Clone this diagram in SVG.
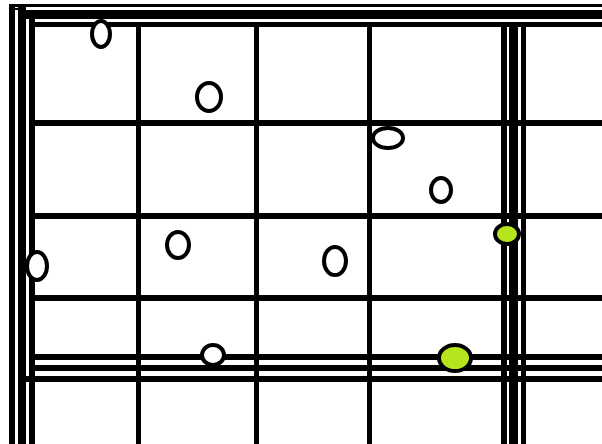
<svg xmlns="http://www.w3.org/2000/svg" width="602" height="444" viewBox="0 0 602 444">
<style>
.ln{fill:#000}
.o{fill:#fff;stroke:#000;stroke-width:4}
.g{fill:#b5e61d;stroke:#000;stroke-width:4}
</style>
<rect width="602" height="444" fill="#fff"/>
<g id="grid">
<rect class="ln" x="9" y="4" width="593" height="3"/>
<rect class="ln" x="18" y="10" width="584" height="9"/>
<rect class="ln" x="29" y="22" width="573" height="5"/>
<rect class="ln" x="15" y="8" width="3" height="2"/>
<rect class="ln" x="9" y="4" width="6" height="440"/>
<rect class="ln" x="18" y="6" width="8" height="438"/>
<rect class="ln" x="29" y="10" width="6" height="434"/>
<rect class="ln" x="136" y="27" width="5" height="417"/>
<rect class="ln" x="254" y="27" width="5" height="417"/>
<rect class="ln" x="367" y="27" width="5" height="417"/>
<rect class="ln" x="501" y="27" width="6" height="417"/>
<rect class="ln" x="509" y="27" width="9" height="417"/>
<rect class="ln" x="521" y="27" width="5" height="417"/>
<rect class="ln" x="35" y="120" width="567" height="6"/>
<rect class="ln" x="35" y="213" width="567" height="6"/>
<rect class="ln" x="35" y="295" width="567" height="6"/>
<rect class="ln" x="35" y="354" width="567" height="6"/>
<rect class="ln" x="35" y="365" width="567" height="6"/>
<rect class="ln" x="26" y="376" width="576" height="6"/>
</g>
<g id="n1"><ellipse class="o" cx="101" cy="34" rx="9" ry="13"/></g>
<g id="n2"><ellipse class="o" cx="209" cy="97" rx="12" ry="14"/></g>
<g id="n3"><ellipse class="o" cx="388" cy="138" rx="15" ry="10"/></g>
<g id="n4"><ellipse class="o" cx="441" cy="190" rx="10" ry="12"/></g>
<g id="n5"><ellipse class="o" cx="178" cy="245" rx="11" ry="13"/></g>
<g id="n6"><ellipse class="o" cx="335" cy="261" rx="11" ry="14"/></g>
<g id="n7"><ellipse class="o" cx="37" cy="266" rx="10" ry="14"/></g>
<g id="n8"><ellipse class="g" cx="507" cy="234" rx="12" ry="10"/></g>
<g id="n9"><ellipse class="o" cx="213" cy="355" rx="11" ry="10"/></g>
<g id="n10"><ellipse class="g" cx="455" cy="358" rx="16" ry="13"/></g>
</svg>
